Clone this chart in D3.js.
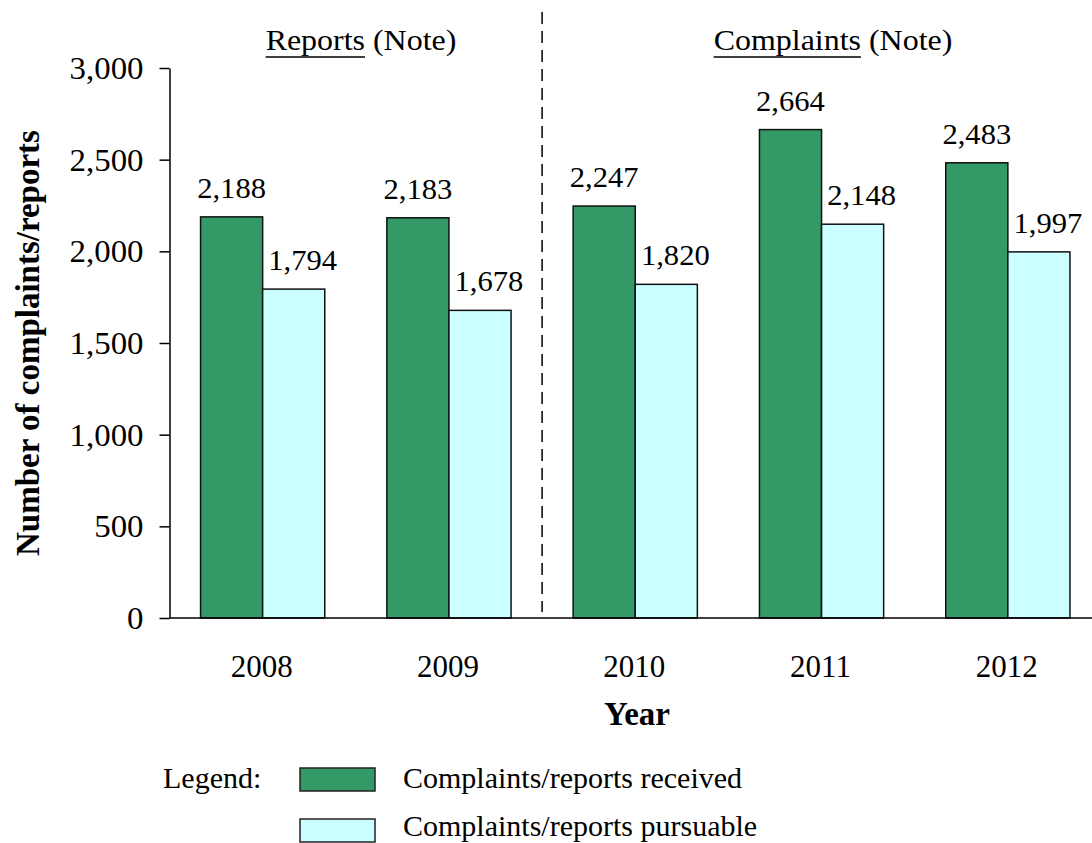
<!DOCTYPE html>
<html>
<head>
<meta charset="utf-8">
<script src="https://cdn.jsdelivr.net/npm/d3@7"></script>
<style>
  html, body { margin: 0; padding: 0; background: #fff; }
  svg { display: block; font-family: "Liberation Serif", "Times New Roman", serif; }
</style>
</head>
<body>
<svg id="chart" width="1092" height="843"></svg>
<script>
// Yearly counts of complaints/reports
const years = ["2008", "2009", "2010", "2011", "2012"];
const received = [2188, 2183, 2247, 2664, 2483];
const pursuable = [1794, 1678, 1820, 2148, 1997];
const yTicks = [0, 500, 1000, 1500, 2000, 2500, 3000];
const seriesNames = ["Complaints/reports received", "Complaints/reports pursuable"];
const seriesColors = ["#339966", "#CCFFFF"];

const svg = d3.select("#chart");
const fmt = d3.format(",");

// widen glyphs slightly by a factor k, keeping the anchor
function widen(sel, k) {
  sel.each(function () {
    const len = this.getComputedTextLength();
    d3.select(this).attr("textLength", len * k).attr("lengthAdjust", "spacingAndGlyphs");
  });
}

const x = d3.scaleBand().domain(years).range([169.5, 1101]).paddingInner(0).paddingOuter(0);
const y = d3.scaleLinear().domain([0, 3000]).range([618, 68]);
const barW = x.bandwidth() / 3;

// y axis
const yAxis = svg.append("g").attr("transform", `translate(${x.range()[0]},0)`)
  .call(d3.axisLeft(y).tickValues(yTicks).tickFormat(fmt).tickSize(10).tickSizeOuter(0));
yAxis.select(".domain").attr("stroke", "#000").attr("stroke-width", 1.5);
yAxis.selectAll(".tick line").attr("stroke", "#000").attr("stroke-width", 1.5);
yAxis.selectAll(".tick text").attr("x", -26).attr("dy", "0.34em")
  .style("font-size", "31px").style("font-family", "Liberation Serif").attr("fill", "#000")
  .call(widen, 1.06);

// bars
const groups = svg.append("g").selectAll("g").data(years).join("g");
groups.append("rect")
  .attr("x", (d) => x(d) + x.bandwidth() / 2 - barW)
  .attr("y", (d, i) => y(received[i]))
  .attr("width", barW)
  .attr("height", (d, i) => y(0) - y(received[i]))
  .attr("fill", seriesColors[0]).attr("stroke", "#111").attr("stroke-width", 1.5);
groups.append("rect")
  .attr("x", (d) => x(d) + x.bandwidth() / 2)
  .attr("y", (d, i) => y(pursuable[i]))
  .attr("width", barW)
  .attr("height", (d, i) => y(0) - y(pursuable[i]))
  .attr("fill", seriesColors[1]).attr("stroke", "#111").attr("stroke-width", 1.5);

// value labels
groups.append("text")
  .attr("x", (d) => x(d) + x.bandwidth() / 2 - barW / 2)
  .attr("y", (d, i) => y(received[i]) - 19)
  .attr("text-anchor", "middle").style("font-size", "30px")
  .text((d, i) => fmt(received[i]))
  .call(widen, 1.02);
groups.append("text")
  .attr("x", (d) => x(d) + x.bandwidth() / 2 + barW / 2 + 9)
  .attr("y", (d, i) => y(pursuable[i]) - 19)
  .attr("text-anchor", "middle").style("font-size", "30px")
  .text((d, i) => fmt(pursuable[i]))
  .call(widen, 1.02);

// x axis baseline
svg.append("line")
  .attr("x1", x.range()[0]).attr("x2", 1092)
  .attr("y1", y(0)).attr("y2", y(0))
  .attr("stroke", "#000").attr("stroke-width", 1.5);

// year labels
svg.append("g").selectAll("text").data(years).join("text")
  .attr("x", (d) => x(d) + x.bandwidth() / 2 - 1)
  .attr("y", 677)
  .attr("text-anchor", "middle").style("font-size", "31px")
  .text((d) => d);

// divider between reports and complaints
const divX = x("2010");
svg.append("line")
  .attr("x1", divX).attr("x2", divX).attr("y1", 12).attr("y2", 612)
  .attr("stroke", "#000").attr("stroke-width", 1.5).attr("stroke-dasharray", "12,7");

// section headings with underlined first word
function heading(cx, word, rest) {
  const g = svg.append("g").attr("transform", `translate(${cx},50) scale(1.065,1)`);
  const t = g.append("text").attr("x", 0).attr("y", 0)
    .attr("text-anchor", "middle").style("font-size", "30px");
  const w = t.append("tspan").text(word);
  t.append("tspan").text(" " + rest);
  const total = t.node().getComputedTextLength();
  const wordLen = w.node().getComputedTextLength();
  g.append("line")
    .attr("x1", -total / 2).attr("x2", -total / 2 + wordLen)
    .attr("y1", 7).attr("y2", 7)
    .attr("stroke", "#000").attr("stroke-width", 1.5);
}
heading(361, "Reports", "(Note)");
heading(833, "Complaints", "(Note)");

// axis titles
svg.append("text")
  .attr("transform", `translate(39,${(y(0) + y(3000)) / 2}) rotate(-90)`)
  .attr("text-anchor", "middle").style("font-size", "33px").style("font-weight", "bold")
  .text("Number of complaints/reports");
svg.append("text")
  .attr("x", 637).attr("y", 725)
  .attr("text-anchor", "middle").style("font-size", "33px").style("font-weight", "bold")
  .text("Year");

// legend
svg.append("text").attr("x", 163).attr("y", 788).style("font-size", "30px").text("Legend:");
const legend = svg.append("g").selectAll("g").data(seriesNames).join("g")
  .attr("transform", (d, i) => `translate(300,${768 + i * 51})`);
legend.append("rect")
  .attr("width", 75).attr("height", 23)
  .attr("fill", (d, i) => seriesColors[i]).attr("stroke", "#222").attr("stroke-width", 1.5);
legend.append("text")
  .attr("x", 103).attr("y", (d, i) => (i === 0 ? 20 : 17)).style("font-size", "30px")
  .text((d) => d);
</script>
</body>
</html>
